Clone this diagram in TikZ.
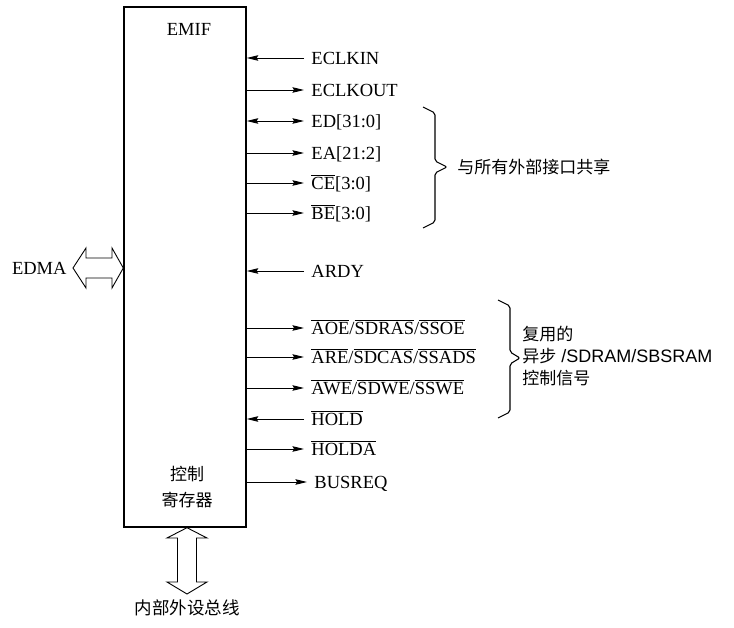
\documentclass[tikz,border=0pt]{standalone}
\usepackage{fontspec}
\setmainfont{Liberation Serif}
\setsansfont{Liberation Sans}
\newfontfamily\cjk{Noto Sans CJK SC}
\usetikzlibrary{arrows.meta,positioning}
\newcommand{\sigbar}[1]{$\overline{\mbox{#1}}$}
\newcommand{\zh}{\cjk\fontsize{17}{22}\selectfont}

\begin{document}
\begin{tikzpicture}[x=1pt, y=-1pt, line width=0.9pt,
font=\fontsize{18.5}{22}\selectfont,
sig/.style={anchor=west, inner sep=0pt, text height=12.2pt, text depth=0pt},
sigin/.style={-{Stealth[length=11.5pt, width=5.5pt, inset=1.5pt]}, shorten <=7pt},
sigout/.style={-{Stealth[length=11.5pt, width=5.5pt, inset=1.5pt]}, shorten >=7pt},
sigboth/.style={{Stealth[length=11.5pt, width=5.5pt, inset=1.5pt]}-{Stealth[length=11.5pt, width=5.5pt, inset=1.5pt]}, shorten >=7pt},
brc/.style={line width=1.1pt, rounded corners=2pt}]
\useasboundingbox (0,0) rectangle (734,628);

\node [draw, line width=1.4pt, inner sep=0pt, minimum width=122pt, minimum height=520pt] (emif) at (185,267) {};
\node (emifname) at (189,29) {EMIF};
\node [align=center, font=\cjk\fontsize{17}{26}\selectfont] (ctrl) at (187,487) {控制\\寄存器};

\node [sig] (eclkin) at (311,58) {ECLKIN};
\node [sig] (eclkout) at (311,90) {ECLKOUT};
\node [sig] (ed) at (311,121) {ED[31:0]};
\node [sig] (ea) at (311,153) {EA[21:2]};
\node [sig] (ce) at (311,183) {\sigbar{CE}[3:0]};
\node [sig] (be) at (311,213) {\sigbar{BE}[3:0]};
\node [sig] (ardy) at (311,271) {ARDY};
\node [sig] (aoe) at (311,328) {\sigbar{AOE}/\sigbar{SDRAS}/\sigbar{SSOE}};
\node [sig] (are) at (311,357) {\sigbar{ARE}/\sigbar{SDCAS}/\sigbar{SSADS}};
\node [sig] (awe) at (311,388) {\sigbar{AWE}/\sigbar{SDWE}/\sigbar{SSWE}};
\node [sig] (hold) at (311,419) {\sigbar{HOLD}};
\node [sig] (holda) at (311,449) {\sigbar{HOLDA}};
\node [sig] (busreq) at (314,482) {BUSREQ};

\path [sigin]
(eclkin) edge (eclkin -| emif.east)
(ardy) edge (ardy -| emif.east)
(hold) edge (hold -| emif.east);
\path [sigout]
(eclkout -| emif.east) edge (eclkout)
(ea -| emif.east) edge (ea)
(ce -| emif.east) edge (ce)
(be -| emif.east) edge (be)
(aoe -| emif.east) edge (aoe)
(are -| emif.east) edge (are)
(awe -| emif.east) edge (awe)
(holda -| emif.east) edge (holda)
(busreq -| emif.east) edge (busreq);
\path [sigboth] (ed -| emif.east) edge (ed);

% braces
\coordinate (b1top) at (423,107);
\coordinate (b1tip) at (447,167);
\draw [brc] (b1top) -- (435,113) -- (435,161) -- (b1tip) -- (435,173) -- (435,222) -- (423,228);
\node [anchor=west, inner sep=0pt, font=\zh] (shared) at (457,167) {与所有外部接口共享};
\coordinate (b2top) at (498,300);
\coordinate (b2tip) at (520,358);
\draw [brc] (b2top) -- (510,306) -- (510,352) -- (b2tip) -- (510,364) -- (510,412) -- (498,418);
\node [anchor=west, inner sep=0pt, align=left, font=\sffamily\fontsize{18}{22}\selectfont] (muxed) at (522,356)
{{\zh 复用的}\\{\zh 异步} /SDRAM/SBSRAM\\{\zh 控制信号}};

% hollow double arrows
\coordinate (edmatip) at (73,268);
\draw (edmatip) -- (86,248) -- (86,258) -- (112,258) -- (112,248) -- (emif.west |- edmatip)
-- (112,288) -- (112,278) -- (86,278) -- (86,288) -- cycle;
\node [left=6pt of edmatip, inner sep=0pt] (edma) {EDMA};
\coordinate (bustip) at (187,594);
\draw (emif.south -| bustip) -- (207,538) -- (196.5,538) -- (196.5,582) -- (207,582) -- (bustip)
-- (167,582) -- (177.5,582) -- (177.5,538) -- (167,538) -- cycle;
\node [below=5pt of bustip, inner sep=0pt, font=\cjk\fontsize{17.5}{20}\selectfont] (bus) {内部外设总线};
\end{tikzpicture}
\end{document}
